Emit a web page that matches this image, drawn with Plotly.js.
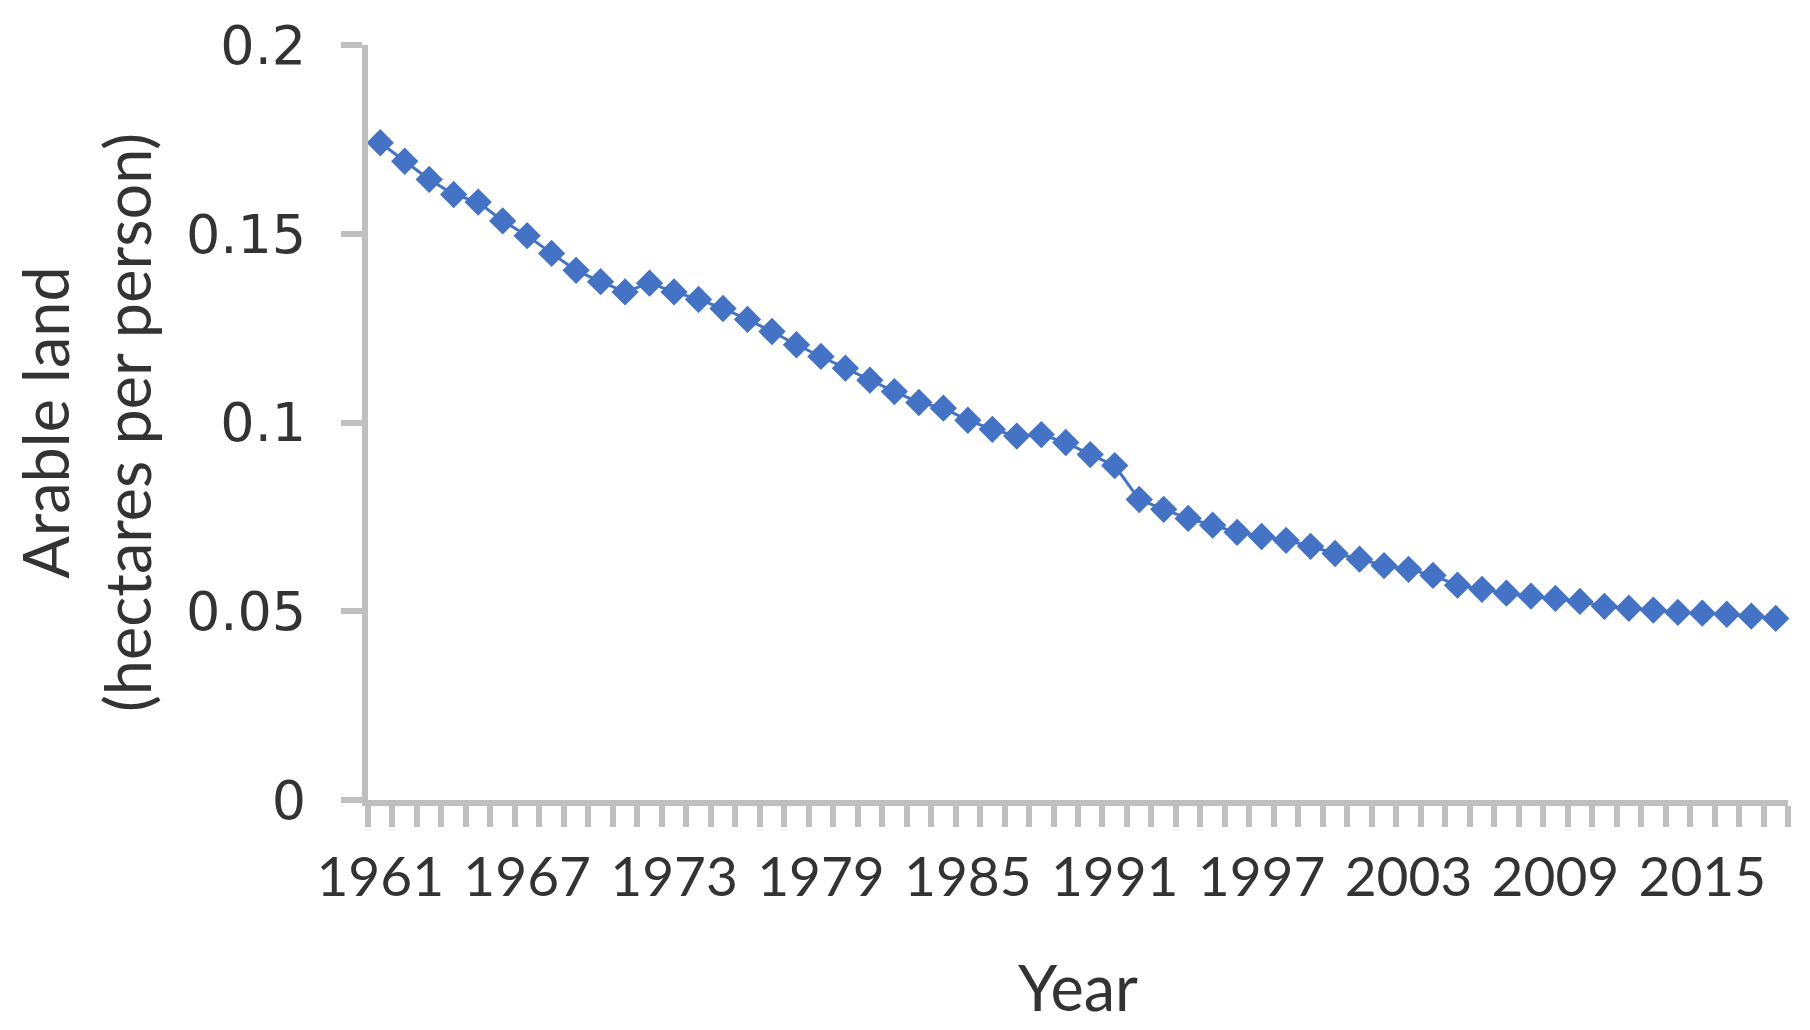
<!DOCTYPE html>
<html>
<head>
<meta charset="utf-8">
<script src="https://cdn.plot.ly/plotly-3.0.1.min.js"></script>
<style>
  html, body { margin: 0; padding: 0; background: #ffffff; }
  #chart { width: 1810px; height: 1030px; }
</style>
</head>
<body>
<div id="chart"></div>
<script>
// Years (categories)
const years = [1961, 1962, 1963, 1964, 1965, 1966, 1967, 1968, 1969, 1970,
               1971, 1972, 1973, 1974, 1975, 1976, 1977, 1978, 1979, 1980,
               1981, 1982, 1983, 1984, 1985, 1986, 1987, 1988, 1989, 1990,
               1991, 1992, 1993, 1994, 1995, 1996, 1997, 1998, 1999, 2000,
               2001, 2002, 2003, 2004, 2005, 2006, 2007, 2008, 2009, 2010,
               2011, 2012, 2013, 2014, 2015, 2016, 2017, 2018];

// Arable land (hectares per person)
const arableLand = [0.1741, 0.1692, 0.1644, 0.1604, 0.1584, 0.1534, 0.1495, 0.1448, 0.1403, 0.1373,
                    0.1346, 0.1369, 0.1346, 0.1326, 0.1302, 0.1273, 0.1241, 0.1206, 0.1175, 0.1144,
                    0.1112, 0.1082, 0.1053, 0.1038, 0.1006, 0.0982, 0.0964, 0.0968, 0.0947, 0.0915,
                    0.0886, 0.0796, 0.0770, 0.0746, 0.0728, 0.0709, 0.0698, 0.0688, 0.0672, 0.0653,
                    0.0638, 0.0621, 0.0611, 0.0595, 0.0569, 0.0558, 0.0548, 0.0540, 0.0534, 0.0526,
                    0.0513, 0.0508, 0.0503, 0.0497, 0.0495, 0.0492, 0.0487, 0.0481];

// Axis tick labels
const xTickYears = [1961, 1967, 1973, 1979, 1985, 1991, 1997, 2003, 2009, 2015];
const yTickValues = [0, 0.05, 0.1, 0.15, 0.2];
const yTickLabels = ["0", "0.05", "0.1", "0.15", "0.2"];

const axisGrey = '#bfbfbf';
const textColor = '#333333';
const mainFont = 'Lato, "Open Sans", sans-serif';

const trace = {
  x: years,
  y: arableLand,
  type: 'scatter',
  mode: 'lines+markers',
  line: { color: '#4472C4', width: 3 },
  marker: { symbol: 'diamond', size: 21, color: '#4472C4' },
  cliponaxis: false,
  hoverinfo: 'x+y'
};

const layout = {
  width: 1810,
  height: 1030,
  margin: { l: 368, r: 22, t: 45, b: 230, pad: 0 },
  paper_bgcolor: '#ffffff',
  plot_bgcolor: '#ffffff',
  showlegend: false,
  xaxis: {
    range: [1960.5, 2018.5],
    tickmode: 'array',
    tickvals: xTickYears,
    ticktext: xTickYears.map(String),
    tickangle: 0,
    ticks: 'outside',
    ticklen: 21,
    tickwidth: 6,
    tickcolor: 'rgba(0,0,0,0)',
    ticklabelstandoff: 3,
    minor: {
      tickmode: 'linear',
      tick0: 1960.5,
      dtick: 1,
      ticks: 'outside',
      ticklen: 21,
      tickwidth: 6,
      tickcolor: axisGrey,
      showgrid: false
    },
    showline: true,
    linecolor: axisGrey,
    linewidth: 6,
    showgrid: false,
    zeroline: false,
    tickfont: { family: mainFont, size: 55, color: textColor },
    title: {
      text: 'Year',
      font: { family: mainFont, size: 63, color: textColor },
      standoff: 62
    },
    automargin: false
  },
  yaxis: {
    range: [0, 0.2],
    tickmode: 'array',
    tickvals: yTickValues,
    ticktext: yTickLabels,
    ticks: 'outside',
    ticklen: 21,
    tickwidth: 6,
    tickcolor: axisGrey,
    ticklabelstandoff: 24,
    showline: true,
    linecolor: axisGrey,
    linewidth: 6,
    showgrid: false,
    zeroline: false,
    tickfont: { family: '"DejaVu Sans", Verdana, sans-serif', size: 54, color: textColor },
    title: {
      text: 'Arable land<br>(hectares per person)',
      font: { family: mainFont, size: 63, color: textColor },
      standoff: 16
    },
    automargin: false
  }
};

Plotly.newPlot('chart', [trace], layout, { staticPlot: true, displayModeBar: false });
</script>
</body>
</html>
